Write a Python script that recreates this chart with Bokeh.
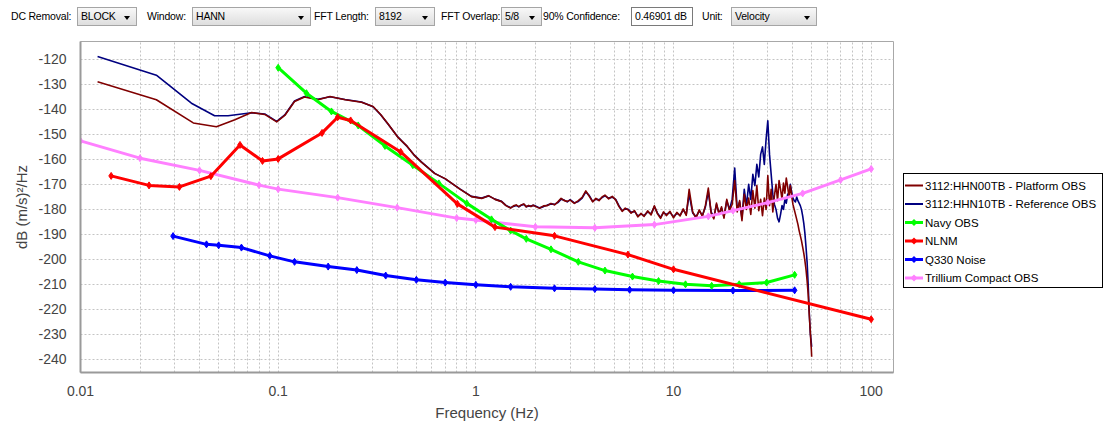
from bokeh.plotting import figure
from bokeh.models import Range1d, FixedTicker, CustomJSTickFormatter, Div
from bokeh.layouts import column, row
from bokeh.embed import file_html
from bokeh.resources import INLINE

# ---------------------------------------------------------------- data
# Peterson NLNM, velocity PSD
nlnm_freq = [0.01429, 0.02222, 0.03165, 0.04566, 0.0641, 0.0833, 0.1, 0.1667, 0.2, 0.2326,
             0.4167, 0.8065, 1.25, 2.5, 5.882, 10.0, 100.0]
nlnm_db = [-166.6, -170.4, -171.0, -166.7, -154.2, -160.6, -159.8, -149.4, -143.1, -144.4,
           -157.0, -177.8, -187.1, -190.6, -198.1, -204.0, -224.0]

navy_freq = [0.1, 0.139, 0.186, 0.254, 0.347, 0.48, 0.65, 0.9, 1.2, 1.5, 1.8, 2.4, 3.3, 4.5,
             6.2, 8.4, 11.5, 15.6, 21.5, 29.6, 41.0]
navy_db = [-123.3, -133.5, -140.8, -146.4, -154.6, -162.3, -169.6, -177.6, -184.0, -188.5,
           -191.8, -196.0, -201.0, -204.5, -206.9, -208.7, -210.0, -210.6, -210.0, -209.3, -206.2]

q330_freq = [0.0294, 0.0434, 0.05, 0.0652, 0.0907, 0.121, 0.179, 0.25, 0.35, 0.5, 0.7, 1.0,
             1.5, 2.5, 4.0, 6.0, 10.0, 20.0, 41.0]
q330_db = [-190.7, -194.0, -194.4, -195.3, -198.6, -201.0, -202.9, -204.3, -206.5, -208.2,
           -209.3, -210.2, -211.0, -211.6, -211.9, -212.2, -212.4, -212.5, -212.4]

trillium_freq = [0.01, 0.02, 0.04, 0.08, 0.1, 0.2, 0.4, 0.8, 1.0, 2.0, 4.0, 8.0, 15.0, 20.0,
                 30.0, 45.0, 70.0, 100.0]
trillium_db = [-152.6, -159.5, -164.4, -170.3, -171.9, -175.3, -179.3, -183.5, -184.3, -187.0,
               -187.4, -186.1, -182.8, -180.5, -177.3, -173.6, -168.2, -163.8]

# Station 3112 channels, low-frequency part of the PSD
hhn00_lo_freq = [0.0122, 0.0242, 0.0372, 0.0487, 0.0604, 0.0733, 0.0855, 0.0983, 0.108, 0.121,
                 0.136, 0.159, 0.183, 0.218, 0.264, 0.302, 0.33, 0.36, 0.405, 0.45, 0.49, 0.53,
                 0.62, 0.70, 0.83, 0.95, 1.07, 1.16, 1.25, 1.35, 1.42]
hhn00_lo_db = [-128.9, -136.1, -145.4, -146.9, -144.1, -141.2, -142.0, -145.0, -142.4, -136.8,
               -135.0, -136.1, -134.8, -136.1, -137.1, -138.8, -142.0, -145.8, -151.3, -154.8,
               -158.5, -161.1, -165.7, -167.7, -171.9, -174.9, -175.6, -174.5, -176.0, -176.9,
               -178.5]

hhn10_lo_freq = [0.0122, 0.0242, 0.0364, 0.0477, 0.0558, 0.0733, 0.0855, 0.0983, 0.108, 0.121,
                 0.136, 0.159, 0.183, 0.218, 0.264, 0.302, 0.33, 0.36, 0.405, 0.45, 0.49, 0.53,
                 0.62, 0.70, 0.83, 0.95, 1.07, 1.16, 1.25, 1.35, 1.42]
hhn10_lo_db = [-118.8, -126.3, -137.5, -142.5, -142.5, -141.3, -141.8, -144.8, -142.2, -136.6,
               -134.8, -135.9, -134.9, -136.0, -137.0, -138.9, -142.1, -145.9, -151.2, -154.9,
               -158.4, -161.0, -165.6, -167.8, -171.8, -174.8, -175.5, -174.6, -175.9, -176.8,
               -178.4]

# high-frequency part (shared frequency bins)
hi_freq = [1.5, 1.55, 1.6, 1.65, 1.7, 1.75, 1.8, 1.85, 1.9, 1.95,
           2.0, 2.1, 2.2, 2.3, 2.4, 2.5, 2.6, 2.7, 2.8, 2.9, 3.0,
           3.15, 3.3, 3.45, 3.6, 3.75, 3.9, 4.05, 4.2, 4.35, 4.5,
           4.7, 4.9, 5.1, 5.3, 5.5, 5.7, 5.9, 6.1,
           6.35, 6.6, 6.85, 7.1,
           7.4, 7.7, 8.0, 8.3, 8.6, 8.9, 9.2,
           9.6, 10.0, 10.4, 10.8, 11.2, 11.6, 12.0,
           12.5, 13.0, 13.5, 14.0, 14.5, 15.0, 15.5, 16.0, 16.5, 17.0, 17.5, 18.0,
           18.6, 19.2, 19.8, 20.4, 21.0, 21.6, 22.2, 22.8, 23.4, 24.0,
           24.6, 25.2, 25.8, 26.4, 27.0, 27.6, 28.2, 28.8, 29.4, 30.0,
           30.6, 31.2, 31.8, 32.4, 33.0, 33.6, 34.2, 34.8, 35.4, 36.0,
           36.6, 37.2, 37.8, 38.4, 39.0, 39.6, 40.2, 40.8, 41.4, 42.0,
           42.6, 43.2, 43.8, 44.4, 45.0, 45.6, 46.2, 46.8, 47.4, 48.0,
           48.6, 49.2, 49.8, 50.0]

hhn00_hi_db = [-179.5, -178.6, -178.2, -178.9, -178.2, -177.8, -179.0, -178.4, -178.9, -178.3,
               -178.8, -179.6, -178.6, -178.5, -177.6, -178.2, -177.0, -175.6, -176.5, -176.8, -176.3,
               -177.6, -176.5, -175.2, -172.6, -174.8, -177.0, -175.6, -176.5, -175.0, -174.3,
               -175.8, -174.8, -176.2, -178.9, -180.8, -179.5, -180.2, -181.5,
               -180.5, -183.0, -181.6, -182.8,
               -180.6, -182.2, -178.6, -181.8, -183.6, -181.0, -182.5,
               -180.8, -183.4, -181.2, -182.6, -179.8, -182.4, -172.0,
               -181.0, -183.5, -180.2, -182.8, -178.5, -171.5, -181.5, -183.8, -177.5, -182.0, -179.0, -183.5,
               -176.0, -180.5, -178.0, -168.5, -181.0, -176.5, -184.5, -174.0, -180.0, -175.5,
               -182.0, -172.5, -179.5, -170.5, -180.5, -176.0, -182.5, -175.5, -180.0, -166.5,
               -178.5, -172.0, -181.0, -174.5, -170.0, -176.5, -168.5, -172.0, -176.0, -169.5,
               -173.5, -167.5, -171.0, -175.0, -170.5, -174.5, -178.0, -180.0, -182.0, -184.0,
               -186.0, -188.5, -190.5, -192.5, -195.0, -197.5, -200.5, -204.0, -208.5, -214.0,
               -222.0, -229.0, -236.0, -239.0]

hhn10_hi_db = [-179.3, -178.8, -178.4, -179.0, -178.3, -178.0, -178.9, -178.6, -178.7, -178.4,
               -178.6, -179.4, -178.9, -178.3, -177.8, -178.0, -177.3, -175.9, -176.3, -177.0, -176.1,
               -177.4, -176.8, -175.5, -173.0, -174.5, -176.8, -175.9, -176.2, -175.3, -174.6,
               -175.5, -175.1, -176.0, -178.6, -180.5, -179.8, -180.0, -181.2,
               -180.8, -182.6, -181.9, -182.5,
               -181.0, -181.8, -178.9, -181.5, -183.2, -181.3, -182.0,
               -181.2, -183.0, -181.6, -182.3, -180.2, -182.0, -174.0,
               -181.4, -183.0, -180.6, -182.4, -179.0, -173.0, -181.0, -183.2, -178.0, -181.6, -179.5, -183.0,
               -176.5, -180.0, -176.0, -163.5, -180.0, -177.0, -183.5, -172.0, -178.5, -170.0,
               -176.0, -166.0, -170.5, -162.0, -167.0, -158.0, -155.0, -162.0, -152.0, -144.5,
               -158.0, -166.0, -174.0, -178.0, -180.0, -183.5, -185.0, -182.0, -178.5, -180.0,
               -176.0, -177.5, -174.0, -173.5, -170.0, -173.0, -175.5, -176.5, -177.0, -175.0,
               -176.5, -177.5, -178.5, -180.0, -182.5, -185.5, -189.5, -195.0, -201.0, -210.0,
               -221.0, -229.5, -233.5, -235.0]

y_ticks = [-240, -230, -220, -210, -200, -190, -180, -170, -160, -150, -140, -130, -120]
x_ticks = [0.01, 0.1, 1, 10, 100]

series_names = ["3112:HHN00TB - Platform OBS", "3112:HHN10TB - Reference OBS", "Navy OBS",
                "NLNM", "Q330 Noise", "Trillium Compact OBS"]
series_colors = ["#800000", "#000080", "#00ff00", "#ff0000", "#0000ff", "#ff80ff"]
series_markers = [False, False, True, True, True, True]

# processing settings shown in the control bar
captions = ["DC Removal:", "Window:", "FFT Length:", "FFT Overlap:", "90% Confidence:", "Unit:"]
settings = ["BLOCK", "HANN", "8192", "5/8", "0.46901 dB", "Velocity"]

# ---------------------------------------------------------------- control bar
W, H_PAGE = 1105, 423
BAR_H = 32
caption_x = [11, 147, 314, 441, 543, 702]
field_x = [(77, 137), (192, 311), (375, 435), (501, 542), (631, 693), (731, 817)]
is_combo = [True, True, True, True, False, True]

parts = []
for cap, cx in zip(captions, caption_x):
    parts.append(f'<span style="position:absolute;left:{cx}px;top:7px;line-height:19px;'
                 f'white-space:nowrap;">{cap}</span>')
for val, (l, r), combo in zip(settings, field_x, is_combo):
    if combo:
        bg, border = "linear-gradient(#f8f8f8, #dedede)", "#a5a5a5"
    else:
        bg, border = "#ffffff", "#7a7a7a"
    parts.append(
        f'<div style="position:absolute;left:{l}px;top:7px;width:{r - l}px;height:19px;'
        f'box-sizing:border-box;border:1px solid {border};background:{bg};"></div>')
    parts.append(f'<span style="position:absolute;left:{l + 4}px;top:7px;line-height:19px;'
                 f'white-space:nowrap;">{val}</span>')
    if combo:
        parts.append(
            f'<div style="position:absolute;left:{r - 13}px;top:16px;width:0;height:0;'
            f'border-left:3.5px solid transparent;border-right:3.5px solid transparent;'
            f'border-top:4px solid #000;"></div>')

bar_html = (f'<div style="position:relative;width:{W}px;height:{BAR_H}px;'
            f'font-family:\'Liberation Sans\',Arial,sans-serif;font-size:10.5px;'
            f'letter-spacing:-0.2px;color:#000;">'
            + "".join(parts) + "</div>")
bar = Div(text=bar_html, width=W, height=BAR_H, margin=0)

# ---------------------------------------------------------------- PSD figure
H = H_PAGE - BAR_H
LEFT, RIGHT, TOP, BOTTOM = 80, 893, 9, 345          # plot frame inside the figure
FIG_W = RIGHT + 10

p = figure(width=FIG_W, height=H, x_axis_type="log", x_range=Range1d(0.01, 129.7),
           y_range=Range1d(-245.3, -112.8), toolbar_location=None, output_backend="svg",
           min_border_left=LEFT, min_border_right=FIG_W - RIGHT, min_border_top=TOP,
           min_border_bottom=H - BOTTOM, margin=0)
p.background_fill_color = "white"
p.border_fill_color = "white"
p.outline_line_color = "#a8a8a8"
p.outline_line_width = 1

minor = [m * d for d in (0.01, 0.1, 1, 10, 100) for m in range(2, 10)]
p.xaxis.ticker = FixedTicker(ticks=x_ticks, minor_ticks=minor)
p.yaxis.ticker = FixedTicker(ticks=y_ticks)
p.xaxis.formatter = CustomJSTickFormatter(code="""
    const names = {"-2": "0.01", "-1": "0.1", "0": "1", "1": "10", "2": "100"};
    return names[String(Math.round(Math.log10(tick)))];
""")
p.yaxis.formatter = CustomJSTickFormatter(code="return tick.toFixed(0);")

AX_FONT = "Liberation Sans"
for ax in (p.xaxis, p.yaxis):
    ax.axis_line_color = "#9a9a9a"
    ax.axis_line_width = 2
    ax.major_tick_line_color = None
    ax.minor_tick_line_color = None
    ax.major_label_text_font = AX_FONT
    ax.major_label_text_font_size = "14px"
    ax.major_label_text_color = "#444444"
    ax.axis_label_text_font = AX_FONT
    ax.axis_label_text_font_size = "15px"
    ax.axis_label_text_font_style = "normal"
    ax.axis_label_text_color = "#444444"
p.xaxis.axis_label = "Frequency (Hz)"
p.yaxis.axis_label = "dB (m/s)²/Hz"
p.xaxis.major_label_standoff = 7
p.yaxis.major_label_standoff = 8
p.xaxis.axis_label_standoff = 5
p.yaxis.axis_label_standoff = 5

GRID = "#c4c4c4"
p.xgrid.grid_line_color = GRID
p.xgrid.grid_line_dash = "2 2"
p.xgrid.minor_grid_line_color = GRID
p.xgrid.minor_grid_line_dash = "2 2"
p.ygrid.grid_line_color = GRID
p.ygrid.grid_line_dash = "2 2"

# ---------------------------------------------------------------- series
hhn00_freq = hhn00_lo_freq + hi_freq
hhn00_db = hhn00_lo_db + hhn00_hi_db
hhn10_freq = hhn10_lo_freq + hi_freq
hhn10_db = hhn10_lo_db + hhn10_hi_db

p.line(hhn10_freq, hhn10_db, line_color=series_colors[1], line_width=1.6, line_join="round")
p.line(hhn00_freq, hhn00_db, line_color=series_colors[0], line_width=1.6, line_join="round")


def model_curve(xs, ys, color):
    p.line(xs, ys, line_color=color, line_width=3, line_join="round")
    p.scatter(xs, ys, marker="diamond", size=7, color=color)


model_curve(trillium_freq, trillium_db, series_colors[5])
model_curve(q330_freq, q330_db, series_colors[4])
model_curve(navy_freq, navy_db, series_colors[2])
model_curve(nlnm_freq, nlnm_db, series_colors[3])

# ---------------------------------------------------------------- legend box, right of the plot
LEG_W, LEG_H, LEG_TOP = 200, 115, 173 - BAR_H
ROW0, ROW_STEP = 12.5, 18.5
svg = [f'<svg xmlns="http://www.w3.org/2000/svg" width="{LEG_W}" height="{LEG_H}" '
       f'style="position:absolute;left:0;top:{LEG_TOP}px;">',
       f'<rect x="0.5" y="0.5" width="{LEG_W - 1}" height="{LEG_H - 1}" fill="white" '
       f'stroke="black" stroke-width="1"/>']
for i, (name, color, mark) in enumerate(zip(series_names, series_colors, series_markers)):
    cy = ROW0 + ROW_STEP * i
    lw = 3 if mark else 2
    svg.append(f'<line x1="2" y1="{cy}" x2="20" y2="{cy}" stroke="{color}" stroke-width="{lw}"/>')
    if mark:
        svg.append(f'<polygon points="11,{cy - 3.5} 14.5,{cy} 11,{cy + 3.5} 7.5,{cy}" fill="{color}"/>')
    svg.append(f'<text x="22" y="{cy}" dominant-baseline="central" '
               f'font-family="Liberation Sans, Arial, sans-serif" font-size="11.5px" '
               f'fill="black">{name}</text>')
svg.append("</svg>")
legend_div = Div(text=f'<div style="position:relative;width:{W - FIG_W}px;height:{H}px;">'
                 + "".join(svg) + "</div>", width=W - FIG_W, height=H, margin=0)

layout = column(bar, row(p, legend_div, spacing=0, margin=0), spacing=0, margin=0)
open("out.html", "w").write(file_html(layout, INLINE))
